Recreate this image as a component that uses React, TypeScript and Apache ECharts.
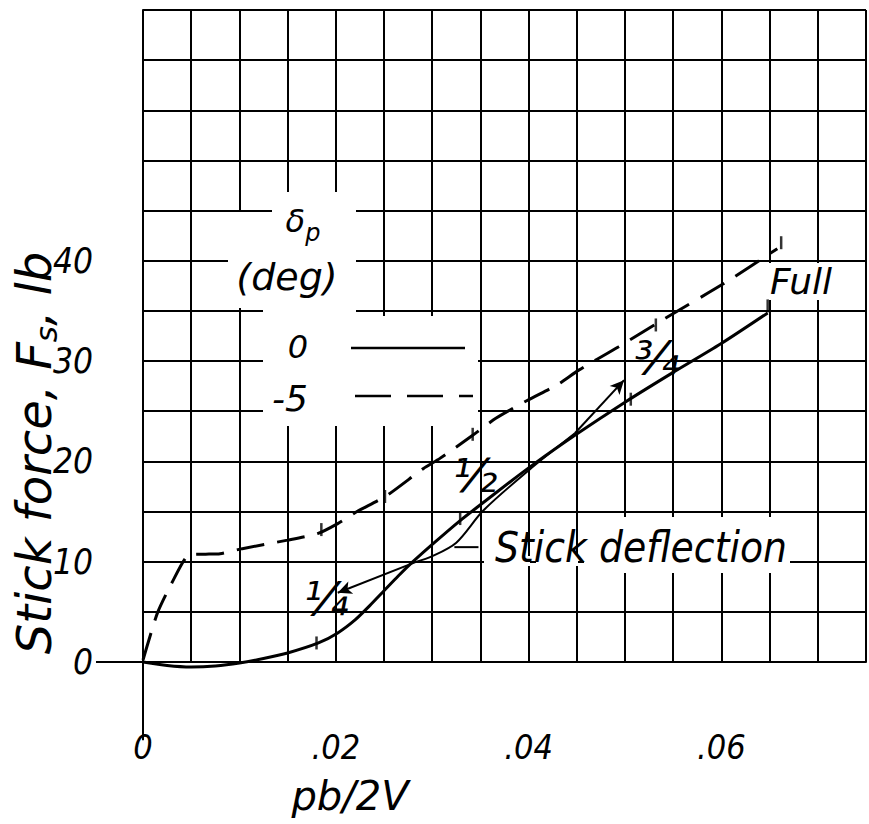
import React, { useEffect, useRef } from "react";
import * as echarts from "echarts";

// ---- data ----
const xLabelValues = [0, 0.02, 0.04, 0.06];
const xLabelTexts = ["0", ".02", ".04", ".06"];
const yLabelValues = [0, 10, 20, 30, 40];

// delta_p = 0 deg (solid)
const solidCurve: [number, number][] = [
  [0, 0], [0.0025, -0.35], [0.005, -0.5], [0.0075, -0.4], [0.01, -0.1],
  [0.0125, 0.35], [0.015, 0.9], [0.0182, 1.9], [0.0202, 2.9], [0.022, 4.2],
  [0.0235, 5.6], [0.025, 7.1], [0.0265, 8.6], [0.028, 10.0], [0.0301, 11.8],
  [0.0329, 14.1], [0.0349, 15.6], [0.038, 17.9], [0.0405, 19.7], [0.0448, 22.6],
  [0.05, 25.9], [0.0547, 28.7], [0.0599, 31.7], [0.0648, 34.8],
];
// delta_p = -5 deg (dashed)
const dashedCurve: [number, number][] = [
  [0, 0.2], [0.0015, 4.9], [0.003, 7.9], [0.0048, 10.7], [0.0065, 10.75],
  [0.008, 10.8], [0.0103, 11.3], [0.015, 12.15], [0.0181, 12.8], [0.0202, 13.8],
  [0.0222, 15.0], [0.0253, 16.6], [0.0291, 19.3], [0.0308, 20.3], [0.0342, 22.6],
  [0.0366, 24.3], [0.0399, 26.1], [0.0431, 27.7], [0.0452, 29.1], [0.0493, 31.4],
  [0.0544, 34.4], [0.0602, 37.7], [0.0658, 41.2],
];
// stick-deflection tick marks (1/4, 1/2, 3/4, full)
const solidTicks: [number, number][] = [[0.018, 1.9], [0.0329, 14.3], [0.0506, 26.2], [0.0648, 35.5]];
const dashedTicks: [number, number][] = [[0.0185, 13.2], [0.0251, 16.5], [0.0342, 22.7], [0.0532, 33.6], [0.0662, 41.8]];

// annotation leaders
const leaderCurve: [number, number][] = [[0.0284, 10.0], [0.0299, 10.5], [0.0325, 11.9], [0.0353, 15.1], [0.04, 19.1], [0.0448, 22.8]];
const arrowToThreeQuarter: [number, number][] = [[0.0448, 22.8], [0.0499, 28.1]];
const arrowToQuarter: [number, number][] = [[0.0284, 10.0], [0.0202, 6.9]];
const labelLeader: [number, number][] = [[0.0323, 11.45], [0.0348, 11.45]];
const axisExtension: [number, number][] = [[0, 0], [0, -7.8]];

const deflectionLabels = ["¼", "½", "¾", "Full"];
const legendValues = ["0", "-5"];

const FONT = "'DejaVu Sans', sans-serif";
const COND = "'DejaVu Sans Condensed', 'DejaVu Sans', sans-serif";

function xFormatter(v: number) {
  const i = xLabelValues.findIndex((t) => Math.abs(t - v) < 1e-9);
  return i >= 0 ? xLabelTexts[i] : "";
}
function yFormatter(v: number) {
  const i = yLabelValues.findIndex((t) => Math.abs(t - v) < 1e-9);
  return i >= 0 ? String(yLabelValues[i]) : "";
}

const black = "#000";
const txt = (text: string, x: number, y: number, fontSize: number, extra: any = {}) => ({
  type: "text",
  x,
  y,
  z: 20,
  ...extra,
  style: {
    text,
    fontSize,
    fontFamily: extra.fontFamily || FONT,
    fontStyle: "italic",
    fill: black,
    align: "center",
    verticalAlign: "middle",
    ...(extra.style || {}),
  },
});
const mask = (x: number, y: number, width: number, height: number) => ({
  type: "rect",
  z: 1,
  shape: { x, y, width, height },
  style: { fill: "#fff" },
  silent: true,
});

export default function App() {
  const ref = useRef<HTMLDivElement>(null);
  useEffect(() => {
    if (!ref.current) return;
    const chart = echarts.init(ref.current, null, { renderer: "svg" });
    const option: any = {
      animation: false,
      backgroundColor: "#fff",
      grid: { left: 143, top: 10, width: 726, height: 652 },
      xAxis: {
        type: "value",
        min: 0,
        max: 0.075,
        interval: 0.005,
        axisLine: { show: true, onZero: false, lineStyle: { color: black, width: 2 } },
        axisTick: { show: false },
        splitLine: { show: true, lineStyle: { color: black, width: 2 } },
        axisLabel: {
          formatter: xFormatter,
          margin: 68,
          fontSize: 34,
          fontStyle: "italic",
          fontFamily: COND,
          color: black,
          showMinLabel: true,
        },
      },
      yAxis: {
        type: "value",
        min: 0,
        max: 65,
        interval: 5,
        axisLine: { show: true, onZero: false, lineStyle: { color: black, width: 2 } },
        axisTick: { show: false },
        splitLine: { show: true, lineStyle: { color: black, width: 2 } },
        axisLabel: {
          formatter: yFormatter,
          margin: 50,
          fontSize: 35,
          fontStyle: "italic",
          fontFamily: COND,
          color: black,
          showMinLabel: true,
        },
      },
      series: [
        {
          type: "line",
          data: solidCurve,
          smooth: 0.25,
          showSymbol: false,
          clip: false,
          z: 5,
          lineStyle: { color: black, width: 3 },
        },
        {
          type: "line",
          data: dashedCurve,
          smooth: 0.2,
          showSymbol: false,
          z: 5,
          lineStyle: { color: black, width: 3, type: [28, 13] },
        },
        {
          type: "scatter",
          data: solidTicks,
          symbol: "rect",
          symbolSize: [2.5, 13],
          itemStyle: { color: black },
          z: 6,
        },
        {
          type: "scatter",
          data: dashedTicks,
          symbol: "rect",
          symbolSize: [2.5, 13],
          itemStyle: { color: black },
          z: 6,
        },
        {
          type: "line",
          data: leaderCurve,
          smooth: 0.3,
          showSymbol: false,
          z: 5,
          lineStyle: { color: black, width: 2 },
          markLine: {
            silent: true,
            symbol: ["none", "arrow"],
            symbolSize: [10, 14],
            label: { show: false },
            lineStyle: { color: black, width: 2, type: "solid" },
            data: [
              [{ coord: arrowToThreeQuarter[0] }, { coord: arrowToThreeQuarter[1] }],
              [{ coord: arrowToQuarter[0] }, { coord: arrowToQuarter[1] }],
            ],
          },
        },
        {
          type: "line",
          data: labelLeader,
          showSymbol: false,
          z: 5,
          lineStyle: { color: black, width: 2 },
        },
        {
          type: "line",
          data: axisExtension,
          showSymbol: false,
          clip: false,
          z: 5,
          lineStyle: { color: black, width: 2 },
        },
      ],
      graphic: [
        // short stub of the zero line to the left of the plot
        {
          type: "line",
          z: 3,
          shape: { x1: 96, y1: 662, x2: 143, y2: 662 },
          style: { stroke: black, lineWidth: 2 },
        },
        // white patches where the lettering interrupts the grid
        mask(272, 192, 84, 22),
        mask(228, 212, 128, 96),
        mask(263, 308, 93, 8),
        mask(263, 316, 215, 110),
        mask(768, 263, 66, 37),
        mask(584, 517, 206, 56),
        mask(484, 556, 46, 10),
        mask(536, 556, 42, 10),
        // legend
        {
          type: "text",
          x: 303,
          y: 225,
          z: 20,
          style: {
            text: "{d|δ}{s|p}",
            align: "center",
            verticalAlign: "middle",
            rich: {
              d: { fontSize: 32, fontFamily: FONT, fontStyle: "italic", fill: black, lineHeight: 40, verticalAlign: "top" },
              s: { fontSize: 24, fontFamily: FONT, fontStyle: "italic", fill: black, lineHeight: 30, verticalAlign: "bottom" },
            },
          },
        },
        txt("(deg)", 287, 277, 38),
        txt(legendValues[0], 298, 347, 32),
        txt(legendValues[1], 290, 398, 36),
        {
          type: "line",
          z: 20,
          shape: { x1: 351, y1: 348, x2: 465, y2: 348 },
          style: { stroke: black, lineWidth: 2.5 },
        },
        {
          type: "line",
          z: 20,
          shape: { x1: 355, y1: 396, x2: 473, y2: 396 },
          style: { stroke: black, lineWidth: 2.5, lineDash: [36, 16] },
        },
        // deflection labels
        txt(deflectionLabels[0], 326, 599, 46),
        txt(deflectionLabels[1], 475, 476, 46),
        txt(deflectionLabels[2], 657, 358, 46),
        txt(deflectionLabels[3], 801, 281, 36),
        txt("Stick deflection", 641, 547, 42, { fontFamily: COND }),
        // axis titles
        {
          type: "text",
          x: 34,
          y: 453,
          rotation: Math.PI / 2,
          z: 20,
          style: {
            text: "{m|Stick force, F}{s|s}{m|, lb}",
            align: "center",
            verticalAlign: "middle",
            rich: {
              m: { fontSize: 48, fontFamily: FONT, fontStyle: "italic", fill: black, lineHeight: 54, verticalAlign: "middle" },
              s: { fontSize: 31, fontFamily: FONT, fontStyle: "italic", fill: black, lineHeight: 31, verticalAlign: "bottom" },
            },
          },
        },
        txt("pb/2V", 350, 796, 40),
      ],
    };
    chart.setOption(option);
    return () => chart.dispose();
  }, []);
  return (
    <div
      ref={ref}
      style={{ position: "fixed", left: 0, top: 0, width: 869, height: 824, background: "#fff" }}
    />
  );
}
